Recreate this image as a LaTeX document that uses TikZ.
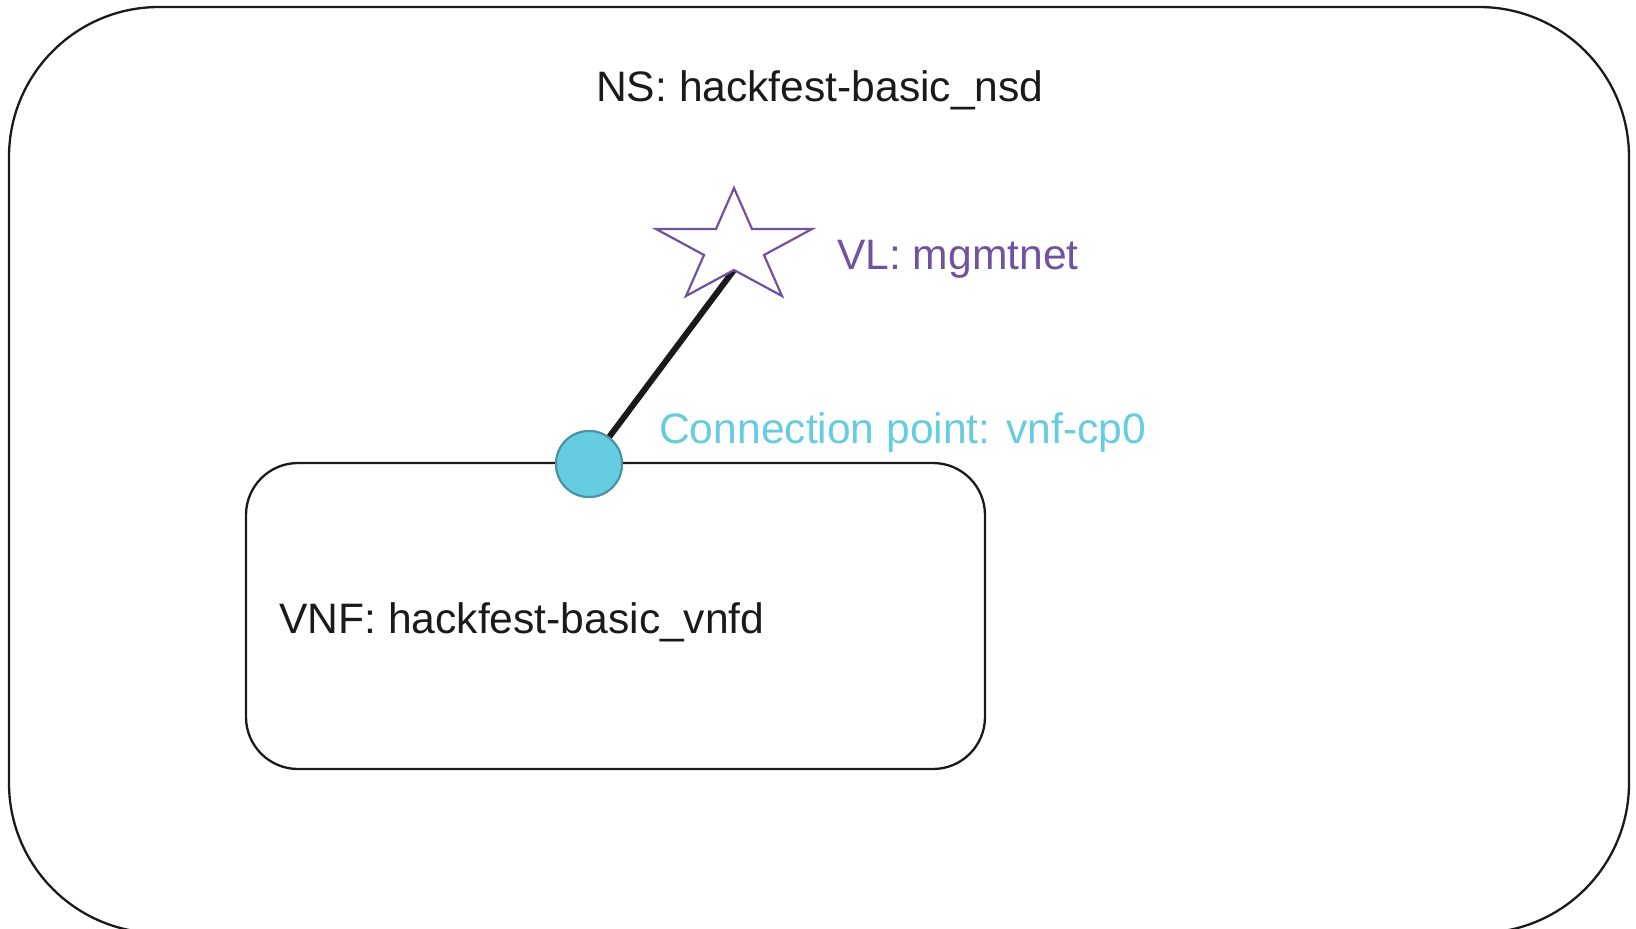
\documentclass[tikz,border=0pt]{standalone}
\usepackage{fontspec}
\setmainfont{Liberation Sans}
\definecolor{txtblack}{RGB}{26,26,26}
\definecolor{vlpurple}{RGB}{112,82,160}
\definecolor{cpcyan}{RGB}{102,204,224}
\definecolor{cpstroke}{RGB}{74,145,162}
\tikzset{
  box/.style={draw=txtblack, line width=2.3pt, rectangle, inner sep=0pt},
  lbl/.style={anchor=base west, inner sep=0pt, font=\fontsize{42.6}{50}\selectfont},
  link/.style={draw=txtblack, line width=6pt},
  cpdot/.style={circle, fill=cpcyan, draw=cpstroke, line width=2pt, minimum size=66pt, inner sep=0pt},
  vlstar/.style={draw=vlpurple, line width=2.2pt, line join=miter, fill=white}
}
\begin{document}
\begin{tikzpicture}[x=1pt,y=-1pt]
\useasboundingbox (0,0) rectangle (1636,929);
% outer NS box
\node[box, rounded corners=150pt, minimum width=1620pt, minimum height=926pt] (ns) at (819,470) {};
% inner VNF box
\node[box, rounded corners=52pt, minimum width=739pt, minimum height=306pt] (vnf) at (615.5,616) {};
% labels
\node[lbl, text=txtblack] (nslbl) at (596,101) {NS: hackfest-basic\_nsd};
\node[lbl, text=txtblack] (vnflbl) at (279,633) {VNF: hackfest-basic\_vnfd};
\node[lbl, text=vlpurple] (vllbl) at (837,269) {VL: mgmtnet};
\node[lbl, text=cpcyan] (cplbl) at (659,443) {Connection point: vnf-cp0};
% VL star
\coordinate (vl) at (734,270);
\node[cpdot] (cp) at (589,464) {};
\draw[link] (cp) -- (vl);
\draw[vlstar] (734,188) -- (716,229) -- (656,229) -- (704,255) -- (686,296) -- (vl)
  -- (782,296) -- (764,255) -- (812,229) -- (752,229) -- cycle;
\node[cpdot] at (cp) {};
\end{tikzpicture}
\end{document}
